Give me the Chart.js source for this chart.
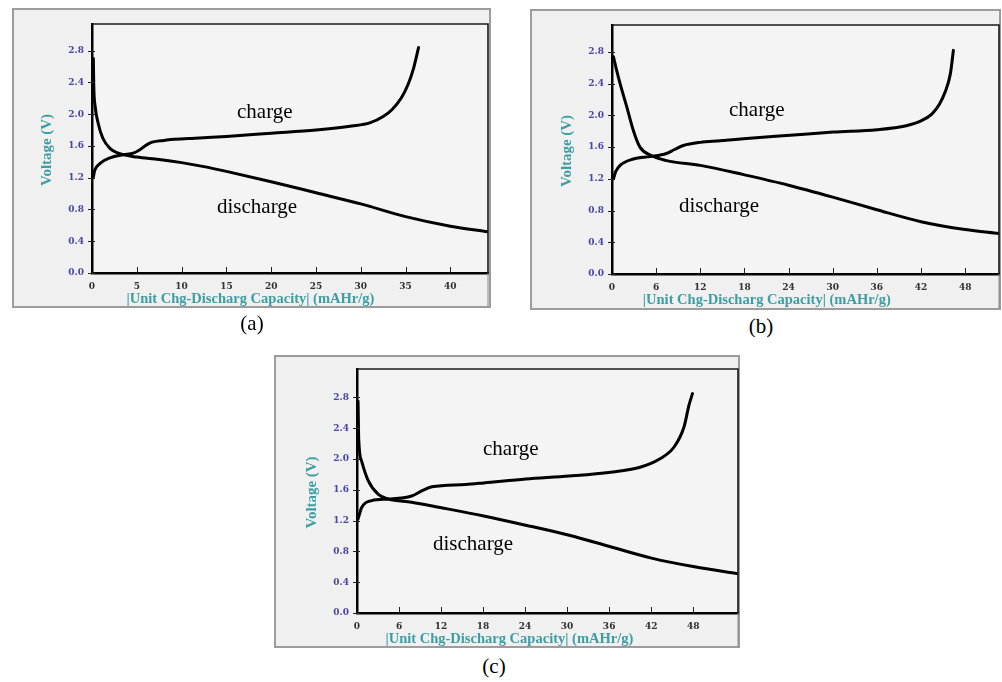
<!DOCTYPE html>
<html><head><meta charset="utf-8">
<script src="https://cdn.jsdelivr.net/npm/chart.js@4/dist/chart.umd.min.js"></script>
<style>
html,body{margin:0;padding:0;background:#fff;}
body{width:1002px;height:682px;position:relative;overflow:hidden;font-family:"Liberation Serif","Times New Roman",serif;}
.frame{position:absolute;box-sizing:border-box;border:2px solid #9c9c9c;background:#f0f0f0;z-index:1;}
canvas{position:absolute;z-index:2;}
.lbl{position:absolute;font-size:21px;line-height:21px;color:#000;white-space:nowrap;z-index:5;}
.sub{transform:translateX(-50%);}
</style></head><body>
<div class="lbl" style="left:237px;top:101px">charge</div>
<div class="lbl" style="left:217px;top:196px">discharge</div>
<div class="lbl" style="left:729px;top:99px">charge</div>
<div class="lbl" style="left:679px;top:195px">discharge</div>
<div class="lbl" style="left:483px;top:438px">charge</div>
<div class="lbl" style="left:433px;top:533px">discharge</div>
<div class="lbl sub" style="left:252px;top:313px">(a)</div>
<div class="lbl sub" style="left:761px;top:316px">(b)</div>
<div class="lbl sub" style="left:494px;top:656px">(c)</div>
<script>
// ---- data ----
const yTickVals = [0, 0.4, 0.8, 1.2, 1.6, 2.0, 2.4, 2.8];
const aXTicks = [0, 5, 10, 15, 20, 25, 30, 35, 40];
const bXTicks = [0, 6, 12, 18, 24, 30, 36, 42, 48];
const cXTicks = [0, 6, 12, 18, 24, 30, 36, 42, 48];
const xTitleText = '|Unit Chg-Discharg Capacity| (mAHr/g)';
const yTitleText = 'Voltage (V)';

const aDisX = [0.15, 0.2, 0.35, 0.7, 1.2, 2.0, 3.5, 5, 7.5, 10, 12.5, 15, 20, 25, 30, 35, 40, 44.2];
const aDisY = [2.70, 2.35, 2.10, 1.88, 1.70, 1.57, 1.49, 1.46, 1.43, 1.39, 1.34, 1.28, 1.15, 1.01, 0.87, 0.71, 0.59, 0.52];
const aChgX = [0.15, 0.3, 0.9, 2.0, 3.5, 4.6, 5.3, 5.8, 6.5, 8, 12, 15, 20, 25, 29, 31, 32.5, 33.5, 34.5, 35.3, 35.9, 36.2, 36.45];
const aChgY = [1.21, 1.29, 1.38, 1.45, 1.49, 1.51, 1.55, 1.59, 1.64, 1.67, 1.70, 1.72, 1.76, 1.80, 1.85, 1.89, 1.97, 2.06, 2.20, 2.38, 2.58, 2.72, 2.84];

const bDisX = [0.2, 0.6, 1.1, 2.0, 2.9, 3.8, 5.2, 7.4, 12, 18, 24, 30, 36, 42, 48, 52.6];
const bDisY = [2.74, 2.58, 2.40, 2.11, 1.81, 1.60, 1.50, 1.43, 1.37, 1.25, 1.12, 0.97, 0.81, 0.66, 0.56, 0.51];
const bChgX = [0.2, 0.5, 1.1, 2.9, 5.2, 7.4, 8.5, 9.7, 12, 14.7, 18.3, 24.2, 30.1, 36, 40, 42, 43.5, 44.5, 45.3, 46, 46.4];
const bChgY = [1.20, 1.29, 1.37, 1.45, 1.48, 1.52, 1.57, 1.62, 1.66, 1.68, 1.71, 1.75, 1.79, 1.82, 1.87, 1.93, 2.02, 2.14, 2.30, 2.53, 2.82];

const cDisX = [0.15, 0.25, 0.67, 1.6, 3.05, 4.5, 7.8, 11.9, 18.1, 24.1, 30.3, 36.2, 42.2, 48.2, 54.4];
const cDisY = [2.75, 2.25, 1.97, 1.72, 1.54, 1.48, 1.44, 1.37, 1.26, 1.14, 1.01, 0.86, 0.71, 0.60, 0.51];
const cChgX = [0.15, 0.67, 2.1, 4.5, 7.8, 9.3, 10.7, 15.5, 18.1, 24.1, 30.3, 36.2, 40.3, 43.2, 45.3, 46.7, 47.4, 47.9];
const cChgY = [1.22, 1.37, 1.46, 1.48, 1.52, 1.59, 1.64, 1.67, 1.69, 1.74, 1.78, 1.83, 1.89, 2.00, 2.16, 2.42, 2.70, 2.85];

// ---- layout (page pixel boxes) ----
const panels = [
  {frame:[12, 8, 491, 308], plot:[92, 24, 488, 273], xMax:44.2, yMax:3.136, xTicks:aXTicks, dis:[aDisX, aDisY], chg:[aChgX, aChgY]},
  {frame:[530, 9, 1001, 310], plot:[612, 25, 999, 274], xMax:52.6, yMax:3.14, xTicks:bXTicks, dis:[bDisX, bDisY], chg:[bChgX, bChgY]},
  {frame:[274, 355, 740, 648], plot:[357, 369, 738, 613], xMax:54.4, yMax:3.17, xTicks:cXTicks, dis:[cDisX, cDisY], chg:[cChgX, cChgY]}
];

const pts = (xs, ys) => xs.map((x, i) => ({x: x, y: ys[i]}));
const TEAL = '#3c9ea2';

function fitFont(ctx, text, target, weight, family) {
  ctx.font = weight + ' 12px ' + family;
  const w = ctx.measureText(text).width;
  return 12 * target / w;
}

panels.forEach(p => {
  const [fl, ft, fr, fb] = p.frame;
  const [pl, pt, pr, pb] = p.plot;
  const W = fr - fl, H = fb - ft;
  const fd = document.createElement('div');
  fd.className = 'frame';
  fd.style.cssText = `left:${fl}px;top:${ft}px;width:${W}px;height:${H}px;`;
  document.body.appendChild(fd);
  const cv = document.createElement('canvas');
  cv.width = W; cv.height = H;
  cv.style.cssText = `left:${fl}px;top:${ft}px;width:${W}px;height:${H}px;`;
  document.body.appendChild(cv);

  const deco = {
    id: 'deco',
    beforeDraw(chart) {
      const {ctx, chartArea: a} = chart;
      ctx.save();
      ctx.fillStyle = '#f4f4f4';
      ctx.fillRect(a.left, a.top, a.right - a.left, a.bottom - a.top);
      ctx.restore();
    },
    afterDraw(chart) {
      const {ctx, chartArea: a, scales} = chart;
      ctx.save();
      ctx.strokeStyle = '#1a1a1a';
      ctx.lineWidth = 1.6;
      ctx.beginPath();
      ctx.moveTo(a.left, a.top); ctx.lineTo(a.right, a.top); ctx.lineTo(a.right, a.bottom);
      ctx.stroke();
      ctx.strokeStyle = '#8a8a8a';
      ctx.lineWidth = 1;
      ctx.beginPath();
      ctx.moveTo(a.right, a.bottom); ctx.lineTo(a.right, chart.height - 1);
      ctx.stroke();
      ctx.strokeStyle = '#222';
      ctx.lineWidth = 1;
      scales.y.ticks.forEach(t => {
        const y = Math.round(scales.y.getPixelForValue(t.value)) + 0.5;
        ctx.beginPath(); ctx.moveTo(a.left - 4, y); ctx.lineTo(a.left + 3, y); ctx.stroke();
      });
      scales.x.ticks.forEach(t => {
        if (t.value === 0) return;
        const x = Math.round(scales.x.getPixelForValue(t.value)) + 0.5;
        ctx.beginPath(); ctx.moveTo(x, a.bottom); ctx.lineTo(x, a.bottom - 6); ctx.stroke();
      });
      ctx.fillStyle = TEAL;
      const fam = '"Liberation Serif", "Times New Roman", serif';
      let fs = fitFont(ctx, xTitleText, 248, 'bold', fam);
      ctx.font = 'bold ' + fs.toFixed(2) + 'px ' + fam;
      ctx.textAlign = 'center'; ctx.textBaseline = 'middle';
      ctx.fillText(xTitleText, a.left + 0.40 * (a.right - a.left), a.bottom + 26.5);
      fs = fitFont(ctx, yTitleText, 72, 'bold', fam);
      ctx.font = 'bold ' + fs.toFixed(2) + 'px ' + fam;
      ctx.translate(a.left - 45, (a.top + a.bottom) / 2 + 1.5);
      ctx.rotate(-Math.PI / 2);
      ctx.fillText(yTitleText, 0, 0);
      ctx.restore();
    }
  };

  const lineDs = (d) => ({
    data: pts(d[0], d[1]),
    showLine: true,
    borderColor: '#000',
    borderWidth: 3,
    borderCapStyle: 'round',
    borderJoinStyle: 'round',
    pointRadius: 0,
    fill: false,
    cubicInterpolationMode: 'monotone'
  });

  new Chart(cv, {
    type: 'scatter',
    data: {datasets: [lineDs(p.dis), lineDs(p.chg)]},
    options: {
      responsive: false,
      animation: false,
      devicePixelRatio: 1,
      events: [],
      layout: {padding: {left: 0, top: pt - ft, right: fr - pr, bottom: 0}},
      plugins: {legend: {display: false}, tooltip: {enabled: false}},
      scales: {
        x: {
          type: 'linear', min: 0, max: p.xMax,
          afterFit: s => { s.height = fb - pb; },
          afterBuildTicks: s => { s.ticks = p.xTicks.map(v => ({value: v})); },
          grid: {display: false, drawTicks: false, drawOnChartArea: false},
          border: {display: true, color: '#000', width: 2.5},
          ticks: {
            autoSkip: false, maxRotation: 0, padding: 8,
            color: '#303030',
            font: {family: '"DejaVu Serif", serif', size: 9, weight: 'bold'},
            callback: v => String(v)
          }
        },
        y: {
          type: 'linear', min: 0, max: p.yMax,
          afterFit: s => { s.width = pl - fl; },
          afterBuildTicks: s => { s.ticks = yTickVals.map(v => ({value: v})); },
          grid: {display: false, drawTicks: false, drawOnChartArea: false},
          border: {display: true, color: '#000', width: 2.5},
          ticks: {
            autoSkip: false, padding: 8,
            color: '#4646a6',
            font: {family: '"DejaVu Serif", serif', size: 9, weight: 'bold'},
            callback: v => Number(v).toFixed(1)
          }
        }
      }
    },
    plugins: [deco]
  });
});
</script>
</body></html>
